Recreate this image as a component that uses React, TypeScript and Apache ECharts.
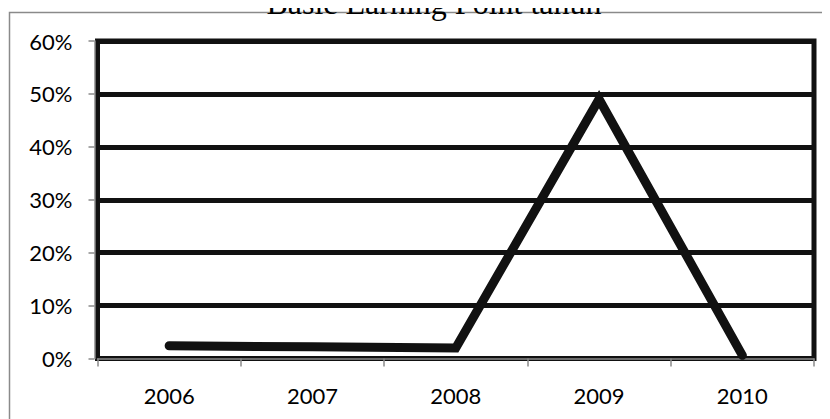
import React, { useEffect, useRef } from "react";
import * as echarts from "echarts";

// Basic earning point per year (percent)
const years = ["2006", "2007", "2008", "2009", "2010"];
const bepValues = [2.4, 2.2, 2.0, 49, 0.6];
const yMin = 0;
const yMax = 60;
const yStep = 10;
const titleText = "Basic Earning Point tahun";

const LABEL_FONT = "Lato, 'Open Sans', sans-serif";

export default function App() {
  const ref = useRef<HTMLDivElement>(null);

  useEffect(() => {
    if (!ref.current) return;
    const chart = echarts.init(ref.current, null, { renderer: "svg" });
    chart.setOption({
      animation: false,
      backgroundColor: "#ffffff",
      graphic: [
        {
          type: "rect",
          shape: { x: 9.5, y: 12.5, width: 840, height: 430 },
          style: { fill: "none", stroke: "#8a8a8a", lineWidth: 1.5 },
          z: 0,
        },
        {
          type: "text",
          x: 434,
          y: 3,
          style: {
            text: titleText,
            font: "32px 'Liberation Serif', 'Times New Roman', serif",
            fill: "#000",
            textAlign: "center",
            textVerticalAlign: "middle",
          },
          z: 10,
        },
      ],
      grid: {
        left: 97.5,
        right: 16,
        top: 41,
        bottom: 60.5,
        show: true,
        borderColor: "#111",
        borderWidth: 5,
        backgroundColor: "transparent",
      },
      xAxis: {
        type: "category",
        data: years,
        boundaryGap: true,
        offset: 2,
        axisLine: { show: true, lineStyle: { color: "#8a8a8a", width: 1.5 } },
        axisTick: {
          show: true,
          alignWithLabel: false,
          length: 8,
          lineStyle: { color: "#8a8a8a", width: 1.5 },
        },
        axisLabel: {
          color: "#000",
          fontSize: 22,
          fontFamily: LABEL_FONT,
          margin: 24,
        },
        splitLine: { show: false },
      },
      yAxis: {
        type: "value",
        min: yMin,
        max: yMax,
        interval: yStep,
        offset: 3,
        axisLine: { show: true, lineStyle: { color: "#8a8a8a", width: 1.5 } },
        axisTick: {
          show: true,
          length: 6,
          lineStyle: { color: "#8a8a8a", width: 1.5 },
        },
        axisLabel: {
          color: "#000",
          fontSize: 22,
          fontFamily: LABEL_FONT,
          margin: 22,
          formatter: "{value}%",
        },
        splitLine: { show: true, lineStyle: { color: "#111", width: 5 } },
      },
      series: [
        {
          type: "line",
          data: bepValues,
          showSymbol: false,
          symbol: "none",
          lineStyle: { color: "#111", width: 9, cap: "round", join: "miter" },
          z: 5,
        },
      ],
    });
    return () => chart.dispose();
  }, []);

  return <div ref={ref} style={{ width: 830, height: 419, marginLeft: -8, marginTop: -8 }} />;
}
